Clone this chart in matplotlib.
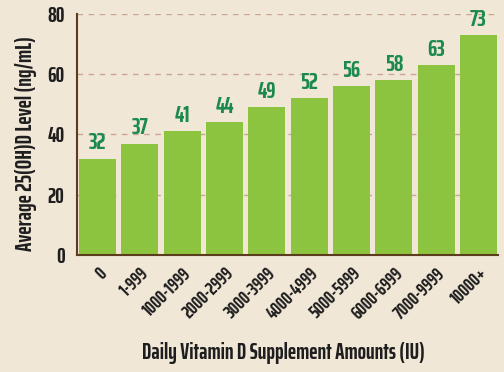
import matplotlib
matplotlib.use("Agg")
import matplotlib.pyplot as plt

# data
categories = ["0", "1-999", "1000-1999", "2000-2999", "3000-3999", "4000-4999",
              "5000-5999", "6000-6999", "7000-9999", "10000+"]
levels = [32, 37, 41, 44, 49, 52, 56, 58, 63, 73]
y_ticks = [0, 20, 40, 60, 80]

bg = "#f1e7d7"
bar_green = "#8cc43f"
label_green = "#1b8a4c"
brown = "#5b3d1e"
grid_col = "#c9a594"
text_col = "#1e1e1e"
font = ["Saira ExtraCondensed", "DejaVu Sans"]

fig = plt.figure(figsize=(5.04, 3.72), dpi=100, facecolor=bg)
ax = fig.add_axes([0.153, 0.315, 0.835, 0.647])
ax.set_facecolor(bg)

x = range(len(categories))
ax.bar(x, levels, width=0.87, color=bar_green, zorder=2)

for xi, v in zip(x, levels):
    ax.text(xi, v + 1.5, str(v), ha="center", va="bottom", color=label_green,
            fontsize=17, fontweight="bold", family=font, zorder=3)

ax.set_ylim(0, 80)
ax.set_xlim(-0.48, 9.46)
ax.set_yticks(y_ticks)
ax.set_yticklabels([str(t) for t in y_ticks], family=font, fontsize=15.5,
                   fontweight="bold", color=text_col)
ax.set_xticks(list(x))
ax.set_xticklabels(categories, rotation=45, ha="right", rotation_mode="anchor",
                   family=font, fontsize=13.5, fontweight="bold", color=text_col)
ax.tick_params(axis="both", length=0)
ax.tick_params(axis="x", pad=7)
ax.tick_params(axis="y", pad=9)

for t in y_ticks[1:]:
    ax.axhline(t, color=grid_col, linestyle=(0, (4, 4)), linewidth=1, zorder=1)

for side in ["top", "right"]:
    ax.spines[side].set_visible(False)
for side in ["left", "bottom"]:
    ax.spines[side].set_color(brown)
    ax.spines[side].set_linewidth(1.5)

ax.set_ylabel("Average 25(OH)D Level (ng/mL)", family=font, fontsize=16,
              fontweight="bold", color=text_col)
ax.yaxis.set_label_coords(-0.095, 0.46)
fig.text(0.563, 0.052, "Daily Vitamin D Supplement Amounts (IU)", ha="center",
         va="center", family=font, fontsize=16, fontweight="bold", color=text_col)

fig.savefig("out.png", dpi=100, facecolor=bg)
